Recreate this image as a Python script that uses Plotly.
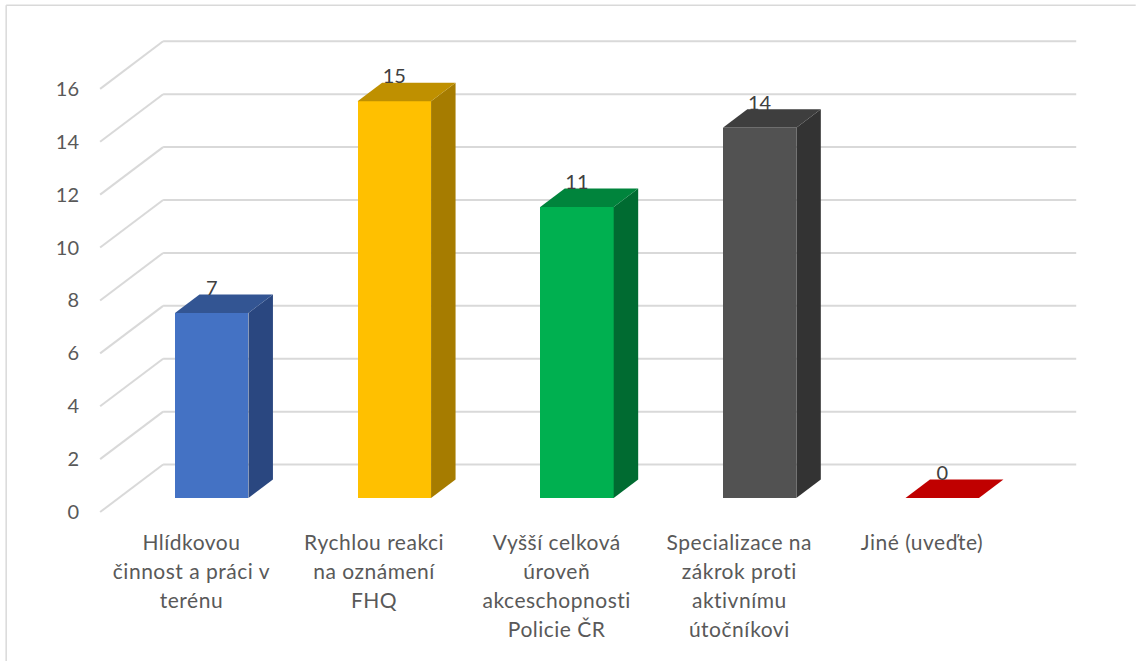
import plotly.graph_objects as go

categories = [
    ["Hlídkovou", "činnost a práci v", "terénu"],
    ["Rychlou reakci", "na oznámení", "FHQ"],
    ["Vyšší celková", "úroveň", "akceschopnosti", "Policie ČR"],
    ["Specializace na", "zákrok proti", "aktivnímu", "útočníkovi"],
    ["Jiné (uveďte)"],
]
values = [7, 15, 11, 14, 0]
y_ticks = [0, 2, 4, 6, 8, 10, 12, 14, 16]
front_colors = ["#4472C4", "#FFC000", "#00B050", "#525252", "#C00000"]
top_colors = ["#335593", "#BF9000", "#00843C", "#3E3E3E", "#C00000"]
side_colors = ["#2A4780", "#A67C00", "#006B31", "#333333", "#7D0000"]

# pixel scale of the chart
PX_X = 182.7
PX_Y = 26.44
X0_PX, Y0_PX = 100.0, 512.0
X_MIN, X_MAX = -0.05, 5.36
Y_MIN, Y_MAX = -0.3, 18.3
W, H = 1136, 661

# oblique projection offsets, in axis units
WALL_DX, WALL_DY = 63 / PX_X, 47.5 / PX_Y
BAR_DX, BAR_DY = 24.5 / PX_X, 18.5 / PX_Y
BAR_BASE = 14 / PX_Y
BAR_W = 73.5 / PX_X
BAR_SHIFT = 0.111
LABEL_GAP = 0.87
GRID = "#D9D9D9"

margin_l = X0_PX + X_MIN * PX_X
margin_r = W - (X0_PX + X_MAX * PX_X)
margin_b = H - (Y0_PX - Y_MIN * PX_Y)
margin_t = Y0_PX - Y_MAX * PX_Y

fig = go.Figure()

shapes = []
for v in y_ticks:
    line = dict(type="line", layer="below", xref="x", yref="y",
                line=dict(color=GRID, width=2))
    shapes.append(dict(line, x0=WALL_DX, x1=5 + WALL_DX, y0=v + WALL_DY, y1=v + WALL_DY))
    shapes.append(dict(line, x0=0, x1=WALL_DX, y0=v, y1=v + WALL_DY))

# outer chart frame
fx = (6 - margin_l) / (W - margin_l - margin_r)
fy = 1 - (5.5 - margin_t) / (H - margin_t - margin_b)
fy0 = 1 - (H - margin_t) / (H - margin_t - margin_b)
fx1 = (W - margin_l) / (W - margin_l - margin_r)
frame = dict(type="line", xref="paper", yref="paper", line=dict(color=GRID, width=1.5))
shapes.append(dict(frame, x0=fx, x1=fx, y0=fy0, y1=fy))
shapes.append(dict(frame, x0=fx, x1=fx1, y0=fy, y1=fy))

centers = [i + 0.5 + BAR_SHIFT for i in range(len(values))]

fig.add_trace(go.Bar(
    x=centers, y=values, base=BAR_BASE, width=BAR_W,
    marker=dict(color=front_colors, line=dict(width=0)),
    showlegend=False, hoverinfo="skip",
))

for c, v, tc, sc in zip(centers, values, top_colors, side_colors):
    left, right = c - BAR_W / 2, c + BAR_W / 2
    top = BAR_BASE + v
    if v > 0:
        fig.add_trace(go.Scatter(
            x=[right, right + BAR_DX, right + BAR_DX, right, right],
            y=[BAR_BASE, BAR_BASE + BAR_DY, top + BAR_DY, top, BAR_BASE],
            mode="lines", fill="toself", fillcolor=sc, line=dict(width=0),
            showlegend=False, hoverinfo="skip"))
    fig.add_trace(go.Scatter(
        x=[left, right, right + BAR_DX, left + BAR_DX, left],
        y=[top, top, top + BAR_DY, top + BAR_DY, top],
        mode="lines", fill="toself", fillcolor=tc, line=dict(width=0),
        showlegend=False, hoverinfo="skip"))

fig.add_trace(go.Scatter(
    x=centers, y=[BAR_BASE + v + LABEL_GAP for v in values],
    text=[str(v) for v in values], mode="text", textposition="middle center",
    textfont=dict(family="Lato", size=20, color="#404040"),
    showlegend=False, hoverinfo="skip",
))

tick_text = ["<br>".join(f'<span style="font-size:21px;letter-spacing:0.5px">{ln}</span>' for ln in cat)
             for cat in categories]

fig.update_layout(
    width=W, height=H,
    margin=dict(l=margin_l, r=margin_r, t=margin_t, b=margin_b, pad=0, autoexpand=False),
    paper_bgcolor="white", plot_bgcolor="white",
    shapes=shapes, showlegend=False, bargap=0,
    xaxis=dict(range=[X_MIN, X_MAX], showgrid=False, zeroline=False, showline=False,
               tickmode="array", tickvals=[i + 0.5 for i in range(5)], ticktext=tick_text,
               tickangle=0, ticks="", ticklabelstandoff=7, automargin=False,
               tickfont=dict(family="Lato", size=22.3, color="#595959")),
    yaxis=dict(range=[Y_MIN, Y_MAX], showgrid=False, zeroline=False, showline=False,
               tickmode="array", tickvals=y_ticks, ticks="", ticklabelstandoff=11,
               automargin=False,
               tickfont=dict(family="Lato", size=20, color="#595959")),
)

fig.write_html("out.html", config=dict(displayModeBar=False),
               post_script="document.body.style.margin='0';document.body.style.overflow='hidden';")
